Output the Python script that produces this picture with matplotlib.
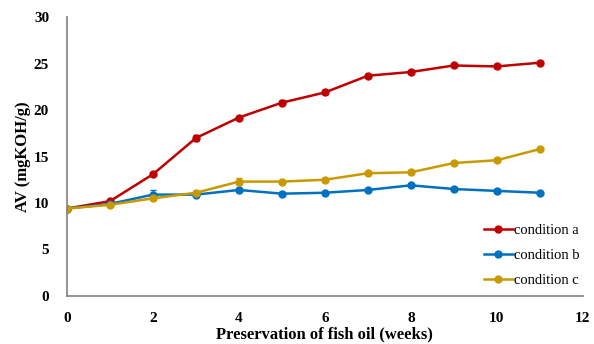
import matplotlib
matplotlib.use("Agg")
import matplotlib.pyplot as plt
from matplotlib.lines import Line2D

weeks = [0, 1, 2, 3, 4, 5, 6, 7, 8, 9, 10, 11]
cond_a = [9.4, 10.2, 13.1, 17.0, 19.2, 20.8, 21.9, 23.7, 24.1, 24.8, 24.7, 25.1]
cond_b = [9.4, 9.9, 10.9, 10.9, 11.4, 11.0, 11.1, 11.4, 11.9, 11.5, 11.3, 11.1]
cond_c = [9.4, 9.8, 10.5, 11.1, 12.3, 12.3, 12.5, 13.2, 13.3, 14.3, 14.6, 15.8]
err_a = [0.1, 0.15, 0.2, 0.35, 0.2, 0.25, 0.2, 0.15, 0.15, 0.15, 0.15, 0.15]
err_b = [0.1, 0.1, 0.5, 0.2, 0.2, 0.15, 0.1, 0.1, 0.1, 0.1, 0.1, 0.1]
err_c = [0.1, 0.1, 0.15, 0.2, 0.35, 0.15, 0.1, 0.1, 0.1, 0.1, 0.1, 0.1]
labels = ["condition a", "condition b", "condition c"]
colors = ["#C00000", "#0070C0", "#C89A00"]

plt.rcParams['font.family'] = ['Liberation Serif', 'DejaVu Serif']

fig = plt.figure(figsize=(5.94, 3.44), dpi=100)
ax = fig.add_axes([0.113, 0.14, 0.868, 0.81])

handles = []
for y, e, lab, c in zip([cond_a, cond_b, cond_c], [err_a, err_b, err_c], labels, colors):
    ax.errorbar(weeks, y, yerr=e, color=c, lw=1.8, marker='o', ms=5,
                capsize=2, elinewidth=1, capthick=1)
    handles.append(Line2D([], [], color=c, lw=1.8, marker='o', ms=5, label=lab))

ax.set_xlim(0, 12)
ax.set_ylim(0, 30)
ax.set_xticks(range(0, 13, 2))
ax.set_yticks(range(0, 31, 5))
for s in ['top', 'right']:
    ax.spines[s].set_visible(False)
for s in ['left', 'bottom']:
    ax.spines[s].set_color('#808080')
    ax.spines[s].set_linewidth(1.2)
ax.tick_params(axis='x', length=0, labelsize=11, pad=11.5)
ax.tick_params(axis='y', length=0, labelsize=11, pad=13)
for t in ax.get_xticklabels() + ax.get_yticklabels():
    t.set_fontweight('bold')
ax.set_xlabel('Preservation of fish oil (weeks)', fontsize=12, fontweight='bold')
ax.set_ylabel('AV (mgKOH/g)', fontsize=12, fontweight='bold')
ax.xaxis.set_label_coords(0.5, -0.14, transform=ax.transAxes)
ax.yaxis.set_label_coords(-0.085, 0.5, transform=ax.transAxes)
ax.xaxis.label.set_va('center')
ax.yaxis.label.set_va('center')

ax.legend(handles=handles, loc='lower right', frameon=False, fontsize=10.5,
          handlelength=2.0, handletextpad=0.1, labelspacing=0.8,
          bbox_to_anchor=(1.02, -0.015))

fig.savefig('out.png', dpi=100)
